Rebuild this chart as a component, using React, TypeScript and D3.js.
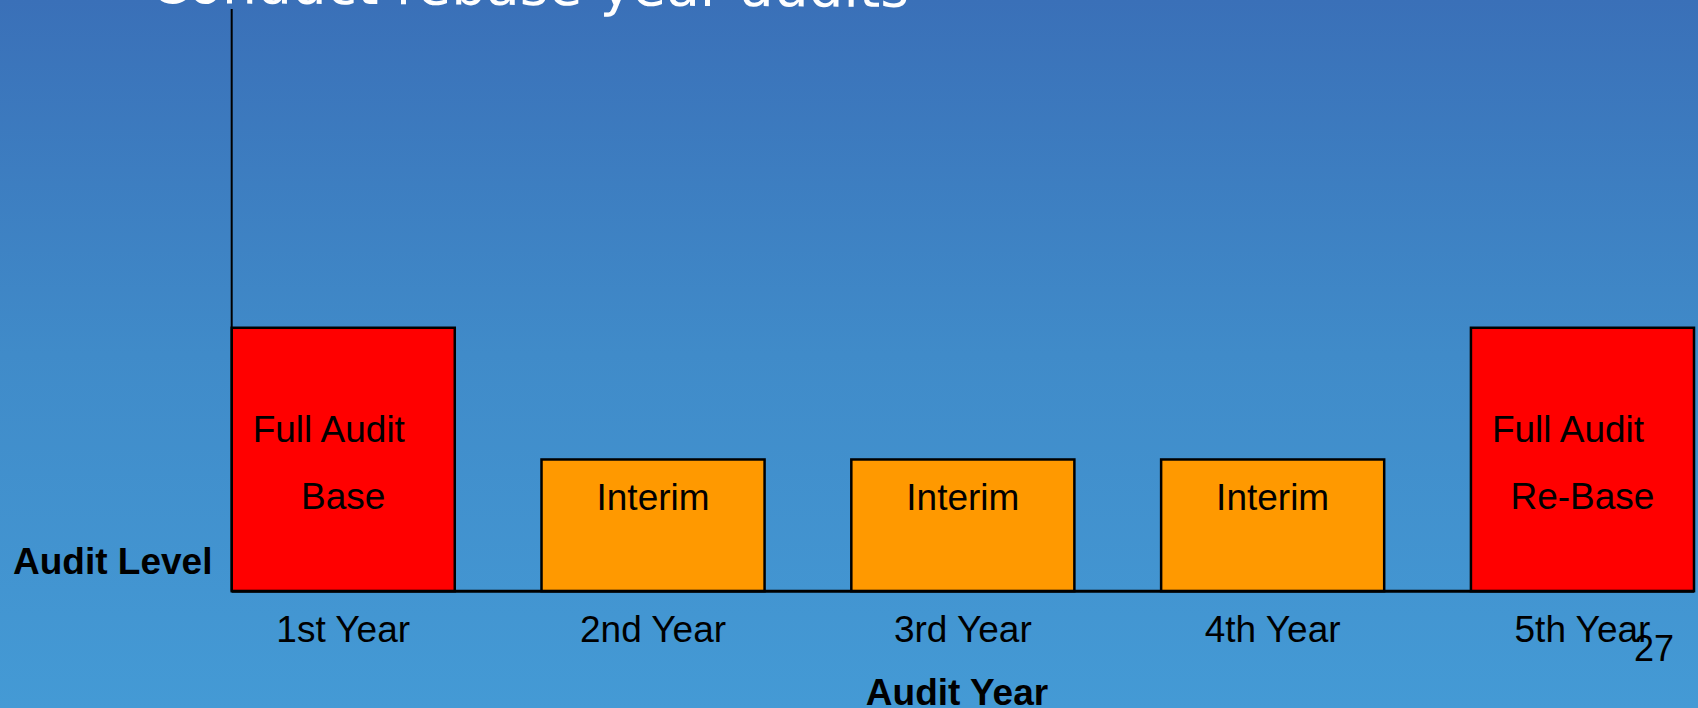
import React from "react";
import * as d3 from "d3";

const categories = ["1st Year", "2nd Year", "3rd Year", "4th Year", "5th Year"];
const auditLevels = [2, 1, 1, 1, 2];
const auditTypes = ["full", "interim", "interim", "interim", "full"];
const barLabelLines = [
  ["Full Audit", "Base"],
  ["Interim"],
  ["Interim"],
  ["Interim"],
  ["Full Audit", "Re-Base"],
];
const typeColors: Record<string, string> = { full: "#FF0000", interim: "#FF9900" };
const titleText = "Conduct rebase year audits";
const yAxisTitle = "Audit Level";
const xAxisTitle = "Audit Year";
const pageNumber = "27";

const W = 1698;
const H = 708;
const left = 231.7;
const right = 1694;
const top = 9;
const bottom = 591.2;
const yMax = 4.42;

export default function App() {
  const x = d3.scaleBand<string>().domain(categories).range([left, right]).paddingInner(0.28).paddingOuter(0);
  const y = d3.scaleLinear().domain([0, yMax]).range([bottom, top]);
  const font = "'Liberation Sans', Arial, sans-serif";
  const fs = 37;
  return (
    <svg width={W} height={H} style={{ position: "absolute", left: 0, top: 0 }}>
      <defs>
        <linearGradient id="bg" x1="0" y1="0" x2="0" y2="1">
          <stop offset="0" stopColor="#3A70B8" />
          <stop offset="0.5" stopColor="#408BC9" />
          <stop offset="1" stopColor="#449AD5" />
        </linearGradient>
      </defs>
      <rect x={0} y={0} width={W} height={H} fill="url(#bg)" />
      <text
        x={150}
        y={3}
        fill="#fff"
        fontFamily="'DejaVu Sans', Verdana, sans-serif"
        fontSize={55}
        transform="rotate(0.3 150 3)"
      >
        {titleText}
      </text>
      {categories.map((c, i) => {
        const bx = x(c)!;
        const bw = x.bandwidth();
        const by = y(auditLevels[i]);
        const lines = barLabelLines[i];
        return (
          <g key={c}>
            <rect
              x={bx}
              y={by}
              width={bw}
              height={y(0) - by}
              fill={typeColors[auditTypes[i]]}
              stroke="#000"
              strokeWidth={2.5}
            />
            {lines.length === 2 ? (
              <>
                <text x={bx + 21} y={y(0) - 149.5} fontFamily={font} fontSize={fs} fill="#000">
                  {lines[0]}
                </text>
                <text x={bx + bw / 2} y={y(0) - 82} textAnchor="middle" fontFamily={font} fontSize={fs} fill="#000">
                  {lines[1]}
                </text>
              </>
            ) : (
              <text x={bx + bw / 2} y={y(0) - 81} textAnchor="middle" fontFamily={font} fontSize={fs} fill="#000">
                {lines[0]}
              </text>
            )}
            <text x={bx + bw / 2} y={y(0) + 50.5} textAnchor="middle" fontFamily={font} fontSize={fs} fill="#000">
              {c}
            </text>
          </g>
        );
      })}
      <line x1={left} y1={y(yMax)} x2={left} y2={y(0)} stroke="#000" strokeWidth={2} />
      <line x1={left} y1={y(0)} x2={right} y2={y(0)} stroke="#000" strokeWidth={3} />
      <text x={13} y={574} fontFamily={font} fontWeight="bold" fontSize={37} fill="#000">
        {yAxisTitle}
      </text>
      <text x={957} y={705} textAnchor="middle" fontFamily={font} fontWeight="bold" fontSize={37} fill="#000">
        {xAxisTitle}
      </text>
      <text x={1634} y={660.7} fontFamily={font} fontSize={36} fill="#000">
        {pageNumber}
      </text>
    </svg>
  );
}
